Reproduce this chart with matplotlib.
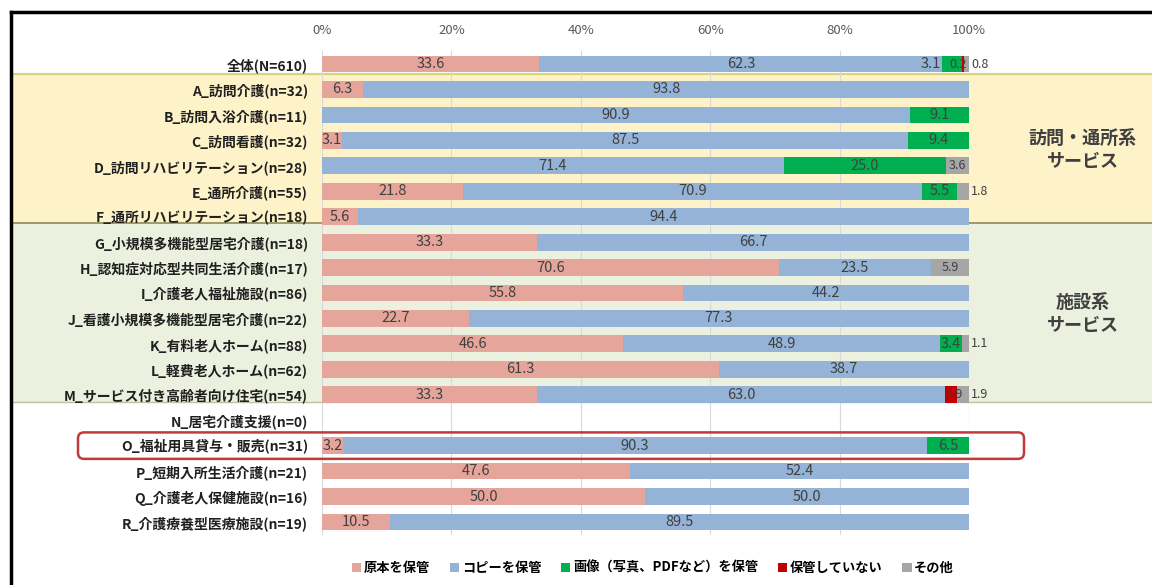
import matplotlib
matplotlib.use('Agg')
import matplotlib.pyplot as plt
from matplotlib.patches import Rectangle, FancyBboxPatch
from matplotlib.lines import Line2D
from matplotlib.transforms import blended_transform_factory, IdentityTransform

plt.rcParams['font.family'] = ['Noto Sans CJK JP', 'DejaVu Sans']

# data (%), rows top to bottom
categories = ['全体(N=610)', 'A_訪問介護(n=32)', 'B_訪問入浴介護(n=11)', 'C_訪問看護(n=32)',
              'D_訪問リハビリテーション(n=28)', 'E_通所介護(n=55)', 'F_通所リハビリテーション(n=18)',
              'G_小規模多機能型居宅介護(n=18)', 'H_認知症対応型共同生活介護(n=17)',
              'I_介護老人福祉施設(n=86)', 'J_看護小規模多機能型居宅介護(n=22)',
              'K_有料老人ホーム(n=88)', 'L_軽費老人ホーム(n=62)',
              'M_サービス付き高齢者向け住宅(n=54)', 'N_居宅介護支援(n=0)',
              'O_福祉用具貸与・販売(n=31)', 'P_短期入所生活介護(n=21)',
              'Q_介護老人保健施設(n=16)', 'R_介護療養型医療施設(n=19)']
orig  = [33.6, 6.3, 0, 3.1, 0, 21.8, 5.6, 33.3, 70.6, 55.8, 22.7, 46.6, 61.3, 33.3, 0, 3.2, 47.6, 50.0, 10.5]
copy  = [62.3, 93.8, 90.9, 87.5, 71.4, 70.9, 94.4, 66.7, 23.5, 44.2, 77.3, 48.9, 38.7, 63.0, 0, 90.3, 52.4, 50.0, 89.5]
image = [3.1, 0, 9.1, 9.4, 25.0, 5.5, 0, 0, 0, 0, 0, 3.4, 0, 0, 0, 6.5, 0, 0, 0]
none  = [0.2, 0, 0, 0, 0, 0, 0, 0, 0, 0, 0, 0, 0, 1.9, 0, 0, 0, 0, 0]
other = [0.8, 0, 0, 0, 3.6, 1.8, 0, 0, 5.9, 0, 0, 1.1, 0, 1.9, 0, 0, 0, 0, 0]
series_names = ['原本を保管', 'コピーを保管', '画像（写真、PDFなど）を保管', '保管していない', 'その他']
colors = ['#E6A59B', '#95B3D7', '#00B050', '#C00000', '#A6A6A6']
xticks = [0, 20, 40, 60, 80, 100]

series = [orig, copy, image, none, other]
n = len(categories)
rows = list(range(n))

fig = plt.figure(figsize=(11.52, 5.85), dpi=100)
ax = fig.add_axes([0.2795, 0.086, 0.5616, 0.8263])
ax.patch.set_visible(False)
ax.set_xlim(0, 100)
ax.set_ylim(n - 0.5, -0.5)

# background bands (visit/day services, facility services)
tr = blended_transform_factory(fig.transFigure, ax.transData)
x0 = 12 / 1152
fig.add_artist(Rectangle((x0, 0.4), 1 - x0, 5.85, transform=tr, fc='#FEF2C8', ec='none', zorder=-2))
fig.add_artist(Rectangle((x0, 6.25), 1 - x0, 7.05, transform=tr, fc='#EBF1DE', ec='none', zorder=-2))
fig.add_artist(Line2D([x0, 1], [0.4, 0.4], transform=tr, color='#D9D27C', lw=1.6, zorder=-1))
fig.add_artist(Line2D([x0, 1], [6.25, 6.25], transform=tr, color='#8F8C58', lw=1.2, zorder=-1))
fig.add_artist(Line2D([x0, 1], [13.3, 13.3], transform=tr, color='#B8C4A4', lw=1.0, zorder=-1))

# outer frame (top and left visible)
fig.add_artist(Line2D([11 / 1152, 11 / 1152], [0, 1 - 12 / 585], color='black', lw=2.5))
fig.add_artist(Line2D([11 / 1152, 1], [1 - 12 / 585, 1 - 12 / 585], color='black', lw=2.5))

left = [0.0] * n
handles = []
for k, vals in enumerate(series):
    h = ax.barh(rows, vals, left=left, height=0.66, color=colors[k], zorder=2)
    handles.append(h)
    for i, v in enumerate(vals):
        if v <= 0:
            continue
        fs = 9 if k >= 3 else 10.5
        xpos, ha = left[i] + v / 2, 'center'
        if k == 4 and v < 2:
            xpos, ha = 100.3, 'left'
        if k == 3 and i > 0:
            xpos += 0.5
        ax.text(xpos, i, f'{v:.1f}', ha=ha, va='center', fontsize=fs, color='#404040', zorder=3)
    left = [a + b for a, b in zip(left, vals)]

# tweak a few crowded labels on the first row
for t in ax.texts:
    x, y = t.get_position()
    if y == 0 and t.get_text() == '3.1':
        t.set_position((95.6, 0)); t.set_ha('right')
    if y == 0 and t.get_text() == '0.2':
        t.set_position((98.3, 0))

ax.set_xticks(xticks)
ax.set_xticklabels([f'{v}%' for v in xticks])
ax.xaxis.tick_top()
ax.tick_params(axis='x', length=0, pad=10, labelsize=9.5, labelcolor='#595959')
ax.set_yticks(rows)
ax.set_yticklabels(categories, fontsize=10, fontweight='bold', color='#202020')
ax.tick_params(axis='y', length=0, pad=10)
ax.grid(axis='x', color='#D9D9D9', lw=0.8, zorder=0)
ax.set_axisbelow(True)
for s in ax.spines.values():
    s.set_visible(False)

# group labels
fig.text(1083 / 1152, 1 - 150 / 585, '訪問・通所系\nサービス', ha='center', va='center',
         fontsize=13, fontweight='bold', color='#404040', linespacing=1.3)
fig.text(1083 / 1152, 1 - 314 / 585, '施設系\nサービス', ha='center', va='center',
         fontsize=13, fontweight='bold', color='#404040', linespacing=1.3)

# highlight row O
hl = categories.index('O_福祉用具貸与・販売(n=31)')
y_top = ax.transData.transform((0, hl - 0.52))[1]
y_bot = ax.transData.transform((0, hl + 0.52))[1]
fig.add_artist(FancyBboxPatch((78, y_bot), 946, y_top - y_bot, transform=IdentityTransform(),
                              boxstyle='round,pad=0,rounding_size=6', fc='none',
                              ec='#C0393B', lw=1.8, zorder=5))

fig.legend(handles, series_names, loc='center', bbox_to_anchor=(653 / 1152, 1 - 568 / 585),
           ncol=5, frameon=False, prop={'size': 9.5, 'weight': 'bold'},
           handlelength=0.7, handleheight=0.7, handletextpad=0.2, columnspacing=1.5)

fig.savefig('out.png', dpi=100)
